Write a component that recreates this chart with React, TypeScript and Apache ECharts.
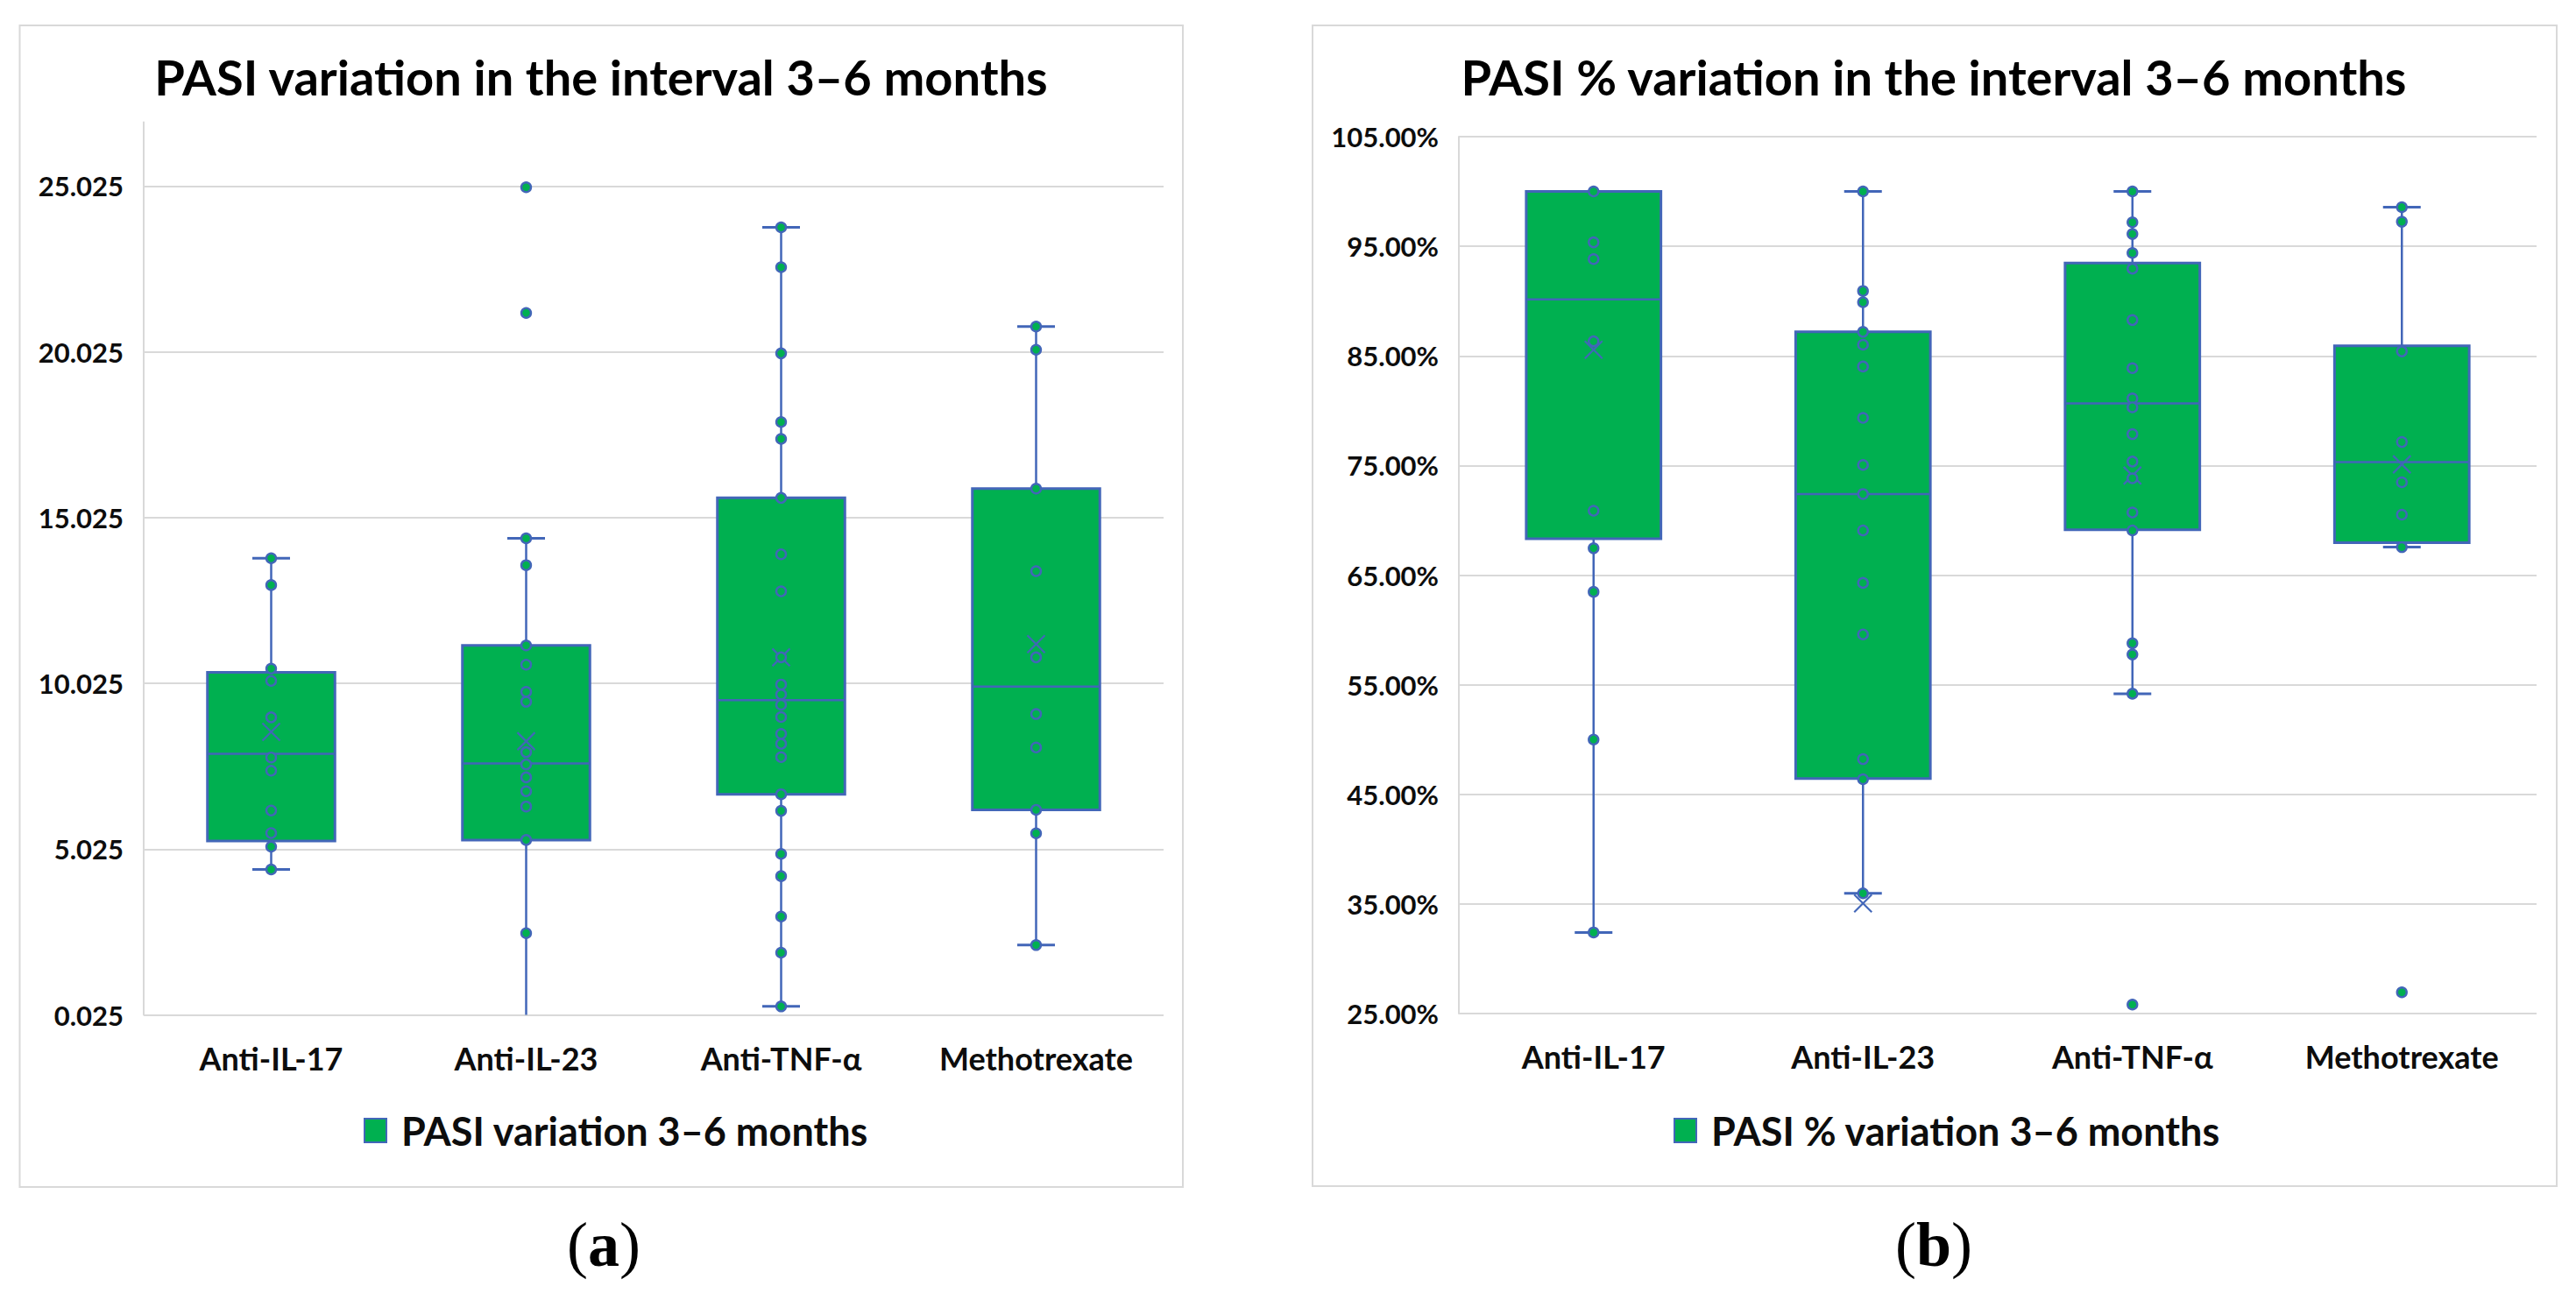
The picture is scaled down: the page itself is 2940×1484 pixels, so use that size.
import React, { useEffect, useRef } from 'react';
import * as echarts from 'echarts';

const CATEGORIES = ['Anti-IL-17', 'Anti-IL-23', 'Anti-TNF-α', 'Methotrexate'];

const LEFT_TITLE = 'PASI variation in the interval 3–6 months';
const RIGHT_TITLE = 'PASI % variation in the interval 3–6 months';
const LEFT_SERIES = 'PASI variation 3–6 months';
const RIGHT_SERIES = 'PASI % variation 3–6 months';

const LEFT_TICKS = [0.025, 5.025, 10.025, 15.025, 20.025, 25.025];
const RIGHT_TICKS = [25, 35, 45, 55, 65, 75, 85, 95, 105];

// box statistics: [min, q1, median, q3, max, mean]
const LEFT_BOX_IL17 = [4.41, 5.27, 7.9, 10.36, 13.8, 8.56];
const LEFT_BOX_IL23 = [-0.1, 5.3, 7.61, 11.17, 14.4, 8.28];
const LEFT_BOX_TNF = [0.28, 6.68, 9.52, 15.62, 23.78, 10.81];
const LEFT_BOX_MTX = [2.13, 6.21, 9.93, 15.9, 20.79, 11.21];

const LEFT_POINTS_IL17 = [13.8, 12.99, 10.47, 10.1, 9.0, 7.79, 7.39, 6.19, 5.51, 5.1, 4.41];
const LEFT_POINTS_IL23 = [24.99, 21.2, 14.4, 13.59, 11.17, 10.59, 9.77, 9.47, 7.95, 7.58, 7.19, 6.77, 6.31, 5.3, 2.49];
const LEFT_POINTS_TNF = [23.78, 22.58, 19.98, 17.91, 17.4, 15.62, 13.92, 12.8, 10.81, 9.99, 9.69, 9.38, 9.01, 8.5, 8.2, 7.8, 6.68, 6.18, 4.88, 4.21, 2.99, 1.9, 0.28];
const LEFT_POINTS_MTX = [20.79, 20.09, 15.9, 13.41, 10.81, 9.1, 8.09, 6.21, 5.5, 2.13];

const RIGHT_BOX_IL17 = [32.4, 68.32, 90.15, 100.0, 100.0, 85.56];
const RIGHT_BOX_IL23 = [35.97, 46.43, 72.4, 87.19, 100.0, 35.05];
const RIGHT_BOX_TNF = [54.18, 69.13, 80.66, 93.47, 100.0, 74.08];
const RIGHT_BOX_MTX = [67.55, 67.96, 75.31, 85.92, 98.57, 75.1];

const RIGHT_POINTS_IL17 = [100.0, 95.36, 93.83, 86.33, 70.87, 67.45, 63.47, 50.0, 32.4];
const RIGHT_POINTS_IL23 = [100.0, 90.92, 89.9, 87.19, 86.02, 84.03, 79.34, 75.05, 72.4, 69.08, 64.29, 59.59, 48.21, 46.38, 35.97];
const RIGHT_POINTS_TNF = [100.0, 97.19, 96.12, 94.39, 92.96, 88.27, 83.88, 81.12, 80.31, 77.86, 75.36, 73.83, 70.71, 69.08, 58.78, 57.76, 54.18, 25.82];
const RIGHT_POINTS_MTX = [98.57, 97.24, 85.41, 77.14, 73.47, 70.51, 67.55, 26.94];

const GREEN = '#00B050';
const BLUE = '#4266B8';
const GRID_GRAY = '#D9D9D9';
const TEXT = '#0D0D0D';
const FONT = 'Lato, "Open Sans", sans-serif';

const renderBox = (params: any, api: any) => {
  const cat = api.value(0);
  const ys = [1, 2, 3, 4, 5, 6].map((i) => api.coord([cat, api.value(i)])[1]);
  const cx = api.coord([cat, api.value(3)])[0];
  const [yMin, yQ1, yMed, yQ3, yMax, yMean] = ys;
  const cs = params.coordSys;
  const top = cs.y;
  const bottom = cs.y + cs.height;
  const band = api.size([1, 0])[0];
  const half = band * 0.25;
  const cap = 21.5;
  const clamp = (y: number) => Math.max(top, Math.min(bottom, y));
  const ls = { stroke: BLUE, lineWidth: 2.5 };
  const children: any[] = [];
  children.push({ type: 'line', shape: { x1: cx, y1: clamp(yMax), x2: cx, y2: yQ3 }, style: ls });
  children.push({ type: 'line', shape: { x1: cx, y1: yQ1, x2: cx, y2: clamp(yMin) }, style: ls });
  if (yMax >= top && yMax <= bottom) {
    children.push({ type: 'line', shape: { x1: cx - cap, y1: yMax, x2: cx + cap, y2: yMax }, style: { stroke: BLUE, lineWidth: 3 } });
  }
  if (yMin >= top && yMin <= bottom) {
    children.push({ type: 'line', shape: { x1: cx - cap, y1: yMin, x2: cx + cap, y2: yMin }, style: { stroke: BLUE, lineWidth: 3 } });
  }
  children.push({
    type: 'rect',
    shape: { x: cx - half, y: yQ3, width: 2 * half, height: yQ1 - yQ3 },
    style: { fill: GREEN, stroke: BLUE, lineWidth: 3 },
  });
  children.push({ type: 'line', shape: { x1: cx - half, y1: yMed, x2: cx + half, y2: yMed }, style: ls });
  const m = 10;
  children.push({ type: 'line', shape: { x1: cx - m, y1: yMean - m, x2: cx + m, y2: yMean + m }, style: { stroke: BLUE, lineWidth: 2.2 } });
  children.push({ type: 'line', shape: { x1: cx + m, y1: yMean - m, x2: cx - m, y2: yMean + m }, style: { stroke: BLUE, lineWidth: 2.2 } });
  return { type: 'group', children };
};

const toBoxData = (boxes: number[][]) => boxes.map((b, i) => [i, ...b]);
const toPointData = (groups: number[][]) => {
  const out: number[][] = [];
  groups.forEach((g, i) => g.forEach((v) => out.push([i, v])));
  return out;
};

const legendItem = (name: string) => ({
  name,
  icon: 'rect',
  itemStyle: { color: GREEN, borderColor: BLUE, borderWidth: 2 },
});

export default function App() {
  const ref = useRef<HTMLDivElement>(null);
  useEffect(() => {
    if (!ref.current) return;
    const chart = echarts.init(ref.current, undefined, { renderer: 'svg' });

    const xAxisBase = {
      type: 'category',
      data: CATEGORIES,
      axisLine: { show: false },
      axisTick: { show: false },
      axisLabel: { interval: 0, hideOverlap: false, fontSize: 36, fontWeight: 'bold', color: TEXT, fontFamily: FONT, margin: 31 },
      splitLine: { show: false },
    };
    const yAxisBase = {
      type: 'value',
      axisLine: { show: true, lineStyle: { color: GRID_GRAY, width: 2 } },
      splitLine: { show: true, lineStyle: { color: GRID_GRAY, width: 2 } },
    };
    const titleStyle = { fontSize: 56, fontWeight: 'bold', color: '#000', fontFamily: FONT, lineHeight: 64 };
    const legendText = { fontSize: 45, fontWeight: 'bold', color: TEXT, fontFamily: FONT, lineHeight: 45, padding: [0, 0, 0, 12] };
    const yLabel = { fontSize: 31, fontWeight: 'bold', color: TEXT, fontFamily: FONT, margin: 23 };
    const serif = '"Liberation Serif", serif';

    const option: any = {
      animation: false,
      backgroundColor: '#ffffff',
      textStyle: { fontFamily: FONT },
      title: [
        { text: LEFT_TITLE, left: 686, top: 55, textAlign: 'center', padding: 0, textStyle: titleStyle },
        { text: RIGHT_TITLE, left: 2207, top: 55, textAlign: 'center', padding: 0, textStyle: titleStyle },
      ],
      legend: [
        {
          data: [legendItem(LEFT_SERIES)],
          left: 415,
          top: 1268,
          padding: 0,
          itemWidth: 25,
          itemHeight: 27,
          selectedMode: false,
          textStyle: legendText,
        },
        {
          data: [legendItem(RIGHT_SERIES)],
          left: 1910,
          top: 1268,
          padding: 0,
          itemWidth: 25,
          itemHeight: 27,
          selectedMode: false,
          textStyle: legendText,
        },
      ],
      grid: [
        { left: 164, top: 139.6, width: 1164, height: 1018.9, outerBoundsMode: 'none' },
        { left: 1665, top: 156, width: 1230, height: 1001, outerBoundsMode: 'none' },
      ],
      xAxis: [
        { ...xAxisBase, gridIndex: 0 },
        { ...xAxisBase, gridIndex: 1 },
      ],
      yAxis: [
        {
          ...yAxisBase,
          gridIndex: 0,
          min: 0.025,
          max: 26.95,
          axisTick: { show: false, customValues: LEFT_TICKS },
          axisLabel: { ...yLabel, customValues: LEFT_TICKS, formatter: (v: number) => v.toFixed(3) },
        },
        {
          ...yAxisBase,
          gridIndex: 1,
          min: 25,
          max: 105,
          axisTick: { show: false, customValues: RIGHT_TICKS },
          axisLabel: { ...yLabel, customValues: RIGHT_TICKS, formatter: (v: number) => v.toFixed(2) + '%' },
        },
      ],
      series: [
        {
          name: LEFT_SERIES,
          type: 'custom',
          xAxisIndex: 0,
          yAxisIndex: 0,
          renderItem: renderBox,
          clip: false,
          z: 2,
          itemStyle: { color: GREEN },
          encode: { x: 0, y: [1, 2, 3, 4, 5, 6] },
          data: toBoxData([LEFT_BOX_IL17, LEFT_BOX_IL23, LEFT_BOX_TNF, LEFT_BOX_MTX]),
        },
        {
          name: LEFT_SERIES,
          type: 'scatter',
          xAxisIndex: 0,
          yAxisIndex: 0,
          symbol: 'circle',
          symbolSize: 11,
          z: 3,
          itemStyle: { color: GREEN, borderColor: BLUE, borderWidth: 2.4, opacity: 1 },
          data: toPointData([LEFT_POINTS_IL17, LEFT_POINTS_IL23, LEFT_POINTS_TNF, LEFT_POINTS_MTX]),
        },
        {
          name: RIGHT_SERIES,
          type: 'custom',
          xAxisIndex: 1,
          yAxisIndex: 1,
          renderItem: renderBox,
          clip: false,
          z: 2,
          itemStyle: { color: GREEN },
          encode: { x: 0, y: [1, 2, 3, 4, 5, 6] },
          data: toBoxData([RIGHT_BOX_IL17, RIGHT_BOX_IL23, RIGHT_BOX_TNF, RIGHT_BOX_MTX]),
        },
        {
          name: RIGHT_SERIES,
          type: 'scatter',
          xAxisIndex: 1,
          yAxisIndex: 1,
          symbol: 'circle',
          symbolSize: 11,
          z: 3,
          itemStyle: { color: GREEN, borderColor: BLUE, borderWidth: 2.4, opacity: 1 },
          data: toPointData([RIGHT_POINTS_IL17, RIGHT_POINTS_IL23, RIGHT_POINTS_TNF, RIGHT_POINTS_MTX]),
        },
      ],
      graphic: [
        {
          type: 'rect',
          shape: { x: 22.5, y: 29, width: 1327.5, height: 1326 },
          style: { fill: 'none', stroke: GRID_GRAY, lineWidth: 2 },
          silent: true,
          z: -1,
        },
        {
          type: 'rect',
          shape: { x: 1498, y: 29, width: 1420, height: 1325 },
          style: { fill: 'none', stroke: GRID_GRAY, lineWidth: 2 },
          silent: true,
          z: -1,
        },
        {
          type: 'text',
          x: 689,
          y: 1421,
          style: {
            text: '({b|a})',
            fontSize: 72,
            fontFamily: serif,
            fill: '#000',
            align: 'center',
            verticalAlign: 'middle',
            rich: { b: { fontWeight: 'bold', fontSize: 72, fontFamily: serif } },
          },
        },
        {
          type: 'text',
          x: 2207,
          y: 1421,
          style: {
            text: '({b|b})',
            fontSize: 72,
            fontFamily: serif,
            fill: '#000',
            align: 'center',
            verticalAlign: 'middle',
            rich: { b: { fontWeight: 'bold', fontSize: 72, fontFamily: serif } },
          },
        },
      ],
    };

    chart.setOption(option);
    return () => chart.dispose();
  }, []);

  return (
    <div
      ref={ref}
      style={{ position: 'absolute', left: 0, top: 0, width: 2940, height: 1484, background: '#fff' }}
    />
  );
}
